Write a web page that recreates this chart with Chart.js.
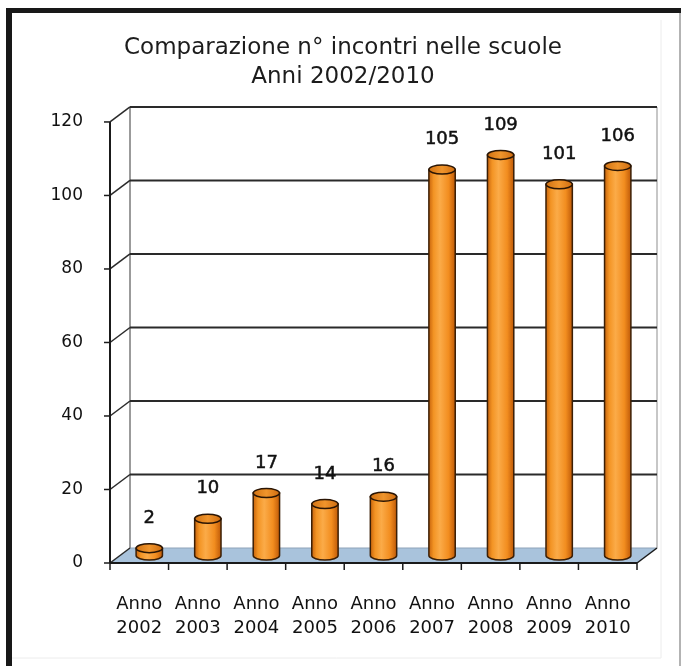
<!DOCTYPE html>
<html>
<head>
<meta charset="utf-8">
<script src="https://cdn.jsdelivr.net/npm/chart.js@4.4.1/dist/chart.umd.min.js"></script>
<style>
  html, body { margin: 0; background: #fff; }
  #wrap { position: relative; width: 686px; height: 666px; }
</style>
</head>
<body>
<div id="wrap"><canvas id="chart" width="686" height="666"></canvas></div>
<script>
// --- data -------------------------------------------------
const years = ["2002", "2003", "2004", "2005", "2006", "2007", "2008", "2009", "2010"];
const incontri = [2, 10, 17, 14, 16, 105, 109, 101, 106];
const yTicks = [0, 20, 40, 60, 80, 100, 120];
const titleLines = ["Comparazione n° incontri nelle scuole", "Anni 2002/2010"];

const categories = years.map((y) => ["Anno", y]);

// depth of the fake 3D box (back wall offset from the front plane)
const DX = 20, DY = -15;
const FONT = "'DejaVu Sans', 'Open Sans', sans-serif";
const INK = "#111";

function line(ctx, x1, y1, x2, y2, color, width) {
  ctx.strokeStyle = color;
  ctx.lineWidth = width;
  ctx.beginPath();
  ctx.moveTo(x1, y1);
  ctx.lineTo(x2, y2);
  ctx.stroke();
}

// walls, floor, gridlines and axes of the 3D box
const boxPlugin = {
  id: "box3d",
  beforeDatasetsDraw(chart) {
    const { ctx, chartArea, scales } = chart;
    const { left, right, top, bottom } = chartArea;
    const y = scales.y;
    ctx.save();

    // floor
    ctx.fillStyle = "#a9c3dc";
    ctx.beginPath();
    ctx.moveTo(left, bottom);
    ctx.lineTo(right, bottom);
    ctx.lineTo(right + DX, bottom + DY);
    ctx.lineTo(left + DX, bottom + DY);
    ctx.closePath();
    ctx.fill();
    line(ctx, left + DX, bottom + DY, right + DX, bottom + DY, "#8ea3b8", 1);

    // back wall edges
    line(ctx, left + DX, top + DY, left + DX, bottom + DY, "#7a7a7a", 1.5);
    line(ctx, right + DX, top + DY, right + DX, bottom + DY, "#b5b5b5", 1.5);

    // gridlines on back wall + side wall diagonals
    yTicks.forEach((v) => {
      const py = y.getPixelForValue(v);
      if (v > 0) line(ctx, left + DX, py + DY, right + DX, py + DY, "#2a2a2a", 2);
      line(ctx, left, py, left + DX, py + DY, "#2a2a2a", 1.5);
      line(ctx, left - 6, py, left, py, "#1a1a1a", 1.5);
    });

    // front axes
    line(ctx, left, top, left, bottom, "#1a1a1a", 2);
    line(ctx, left, bottom, right, bottom, "#1a1a1a", 2);
    line(ctx, right, bottom, right + DX, bottom + DY, "#1a1a1a", 1.5);
    const step = (right - left) / years.length;
    for (let k = 0; k <= years.length; k++) {
      const px = left + step * k;
      line(ctx, px, bottom, px, bottom + 7, "#1a1a1a", 1.5);
    }
    ctx.restore();
  },

  // orange cylinders with value labels on top
  afterDatasetsDraw(chart) {
    const { ctx } = chart;
    const meta = chart.getDatasetMeta(0);
    const ry = 4.5;
    ctx.save();
    meta.data.forEach((bar, i) => {
      const cx = bar.x + DX / 2;
      const rx = bar.width / 2;
      const yTop = bar.y + DY / 2;
      const yBase = bar.base + DY / 2;

      const body = ctx.createLinearGradient(cx - rx, 0, cx + rx, 0);
      body.addColorStop(0, "#c8640c");
      body.addColorStop(0.18, "#f39424");
      body.addColorStop(0.42, "#fbab48");
      body.addColorStop(0.75, "#f28d1f");
      body.addColorStop(1, "#bf5a08");

      ctx.beginPath();
      ctx.moveTo(cx - rx, yTop);
      ctx.lineTo(cx - rx, yBase);
      ctx.ellipse(cx, yBase, rx, ry, 0, Math.PI, 0, true);
      ctx.lineTo(cx + rx, yTop);
      ctx.closePath();
      ctx.fillStyle = body;
      ctx.fill();
      ctx.strokeStyle = "#3b1f06";
      ctx.lineWidth = 1.5;
      ctx.stroke();

      const cap = ctx.createLinearGradient(cx - rx, 0, cx + rx, 0);
      cap.addColorStop(0, "#d27212");
      cap.addColorStop(0.5, "#f0952c");
      cap.addColorStop(1, "#cf6c10");
      ctx.beginPath();
      ctx.ellipse(cx, yTop, rx, ry, 0, 0, Math.PI * 2);
      ctx.fillStyle = cap;
      ctx.fill();
      ctx.strokeStyle = "#2a1504";
      ctx.stroke();

      // value label, slightly heavier than the axis text
      ctx.fillStyle = INK;
      ctx.strokeStyle = INK;
      ctx.lineWidth = 0.5;
      ctx.font = `18px ${FONT}`;
      ctx.textAlign = "center";
      ctx.textBaseline = "middle";
      ctx.fillText(String(incontri[i]), cx, yTop - 30);
      ctx.strokeText(String(incontri[i]), cx, yTop - 30);
    });
    ctx.restore();
  },

  // picture frame
  afterDraw(chart) {
    const { ctx } = chart;
    ctx.save();
    ctx.fillStyle = "#181818";
    ctx.fillRect(6, 8, 675, 5);
    ctx.fillRect(6, 8, 6, 658);
    line(ctx, 680, 13, 680, 666, "#9a9a9a", 1.5);
    line(ctx, 661, 20, 661, 658, "#ececec", 1);
    line(ctx, 12, 658, 661, 658, "#ececec", 1);
    ctx.restore();
  },
};

new Chart(document.getElementById("chart"), {
  type: "bar",
  data: {
    labels: categories,
    datasets: [{
      data: incontri,
      backgroundColor: "rgba(0,0,0,0)",
      borderWidth: 0,
      barPercentage: 0.45,
      categoryPercentage: 1,
    }],
  },
  options: {
    responsive: false,
    animation: false,
    scales: {
      x: {
        grid: { display: false, drawTicks: false },
        border: { display: false },
        ticks: { color: INK, font: { family: FONT, size: 18, lineHeight: 1.33 }, padding: 29, maxRotation: 0, autoSkip: false },
        afterFit: (s) => { s.height = 103; },
      },
      y: {
        min: 0,
        max: 120,
        afterBuildTicks: (s) => { s.ticks = yTicks.map((v) => ({ value: v })); },
        grid: { display: false, drawTicks: false },
        border: { display: false },
        ticks: { color: INK, font: { family: FONT, size: 17 }, padding: 27 },
        afterFit: (s) => { s.width = 110; },
      },
      // empty right-hand axis: only reserves room for the box depth
      yRight: {
        type: "linear",
        position: "right",
        grid: { display: false, drawTicks: false },
        border: { display: false },
        ticks: { display: false },
        afterFit: (s) => { s.width = 49; },
      },
    },
    plugins: {
      legend: { display: false },
      tooltip: { enabled: false },
      title: {
        display: true,
        text: titleLines,
        color: "#1c1c1c",
        font: { family: FONT, size: 23, weight: "normal", lineHeight: 1.26 },
        padding: { top: 34, bottom: 30 },
      },
    },
  },
  plugins: [boxPlugin],
});
</script>
</body>
</html>
